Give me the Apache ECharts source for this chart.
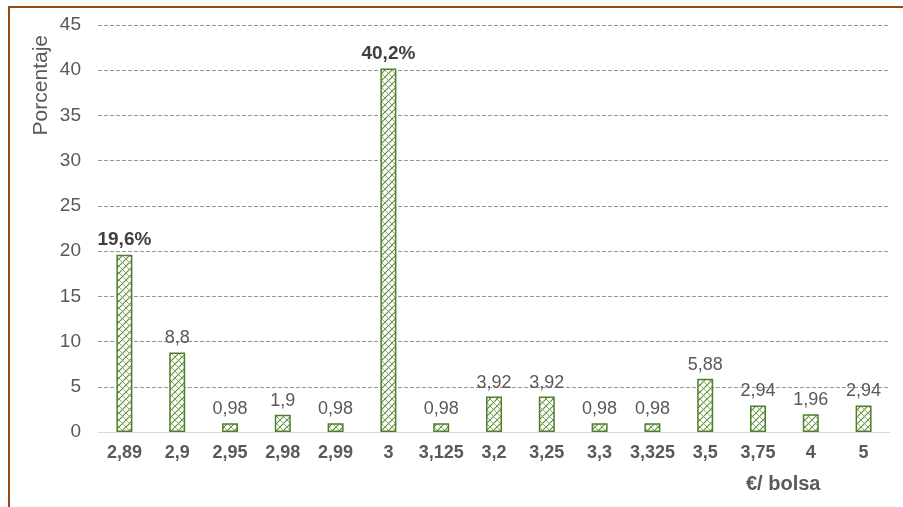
<!DOCTYPE html>
<html><head><meta charset="utf-8">
<script src="https://cdn.jsdelivr.net/npm/echarts@6/dist/echarts.min.js"></script>
<style>
html,body{margin:0;padding:0;background:#fff;}
#frame{position:absolute;left:8px;top:6px;width:903px;height:510px;border-left:2px solid #9a4a0c;border-top:2px solid #9a4a0c;}
#c{position:absolute;left:0;top:0;width:903px;height:507px;}
</style></head>
<body>
<div id="frame"></div>
<div id="c"></div>
<script>
const categories = ['2,89','2,9','2,95','2,98','2,99','3','3,125','3,2','3,25','3,3','3,325','3,5','3,75','4','5'];
const values = [19.6, 8.8, 0.98, 1.9, 0.98, 40.2, 0.98, 3.92, 3.92, 0.98, 0.98, 5.88, 2.94, 1.96, 2.94];
const highlighted = [true, false, false, false, false, true, false, false, false, false, false, false, false, false, false];
const yTicks = [0, 5, 10, 15, 20, 25, 30, 35, 40, 45];

function makePattern(){
  const s = 7;
  const cv = document.createElement('canvas');
  cv.width = s; cv.height = s;
  const g = cv.getContext('2d');
  g.fillStyle = '#ffffff'; g.fillRect(0,0,s,s);
  g.strokeStyle = '#5d8a35'; g.lineWidth = 1.1;
  g.beginPath(); g.moveTo(0,s); g.lineTo(s,0); g.stroke();
  g.beginPath(); g.moveTo(-1,1); g.lineTo(1,-1); g.stroke();
  g.beginPath(); g.moveTo(s-1,s+1); g.lineTo(s+1,s-1); g.stroke();
  g.strokeStyle = '#7ea65c'; g.lineWidth = 0.9;
  g.beginPath(); g.moveTo(0,0); g.lineTo(s,s); g.stroke();
  return cv;
}
const pat = makePattern();

const chart = echarts.init(document.getElementById('c'));
chart.setOption({
  animation:false,
  grid:{left:98, right:13, top:25, bottom:75, containLabel:false},
  xAxis:{
    type:'category', data:categories,
    axisLine:{lineStyle:{color:'#d9d9d9', width:1}},
    axisTick:{show:false},
    axisLabel:{color:'#595959', fontWeight:'bold', fontSize:18, fontFamily:'Liberation Sans', margin:12, interval:0}
  },
  yAxis:{
    type:'value', min:0, max:45, interval:5,
    axisLine:{show:false}, axisTick:{show:false},
    axisLabel:{color:'#595959', fontSize:19, fontFamily:'Liberation Sans', margin:17,
      formatter:v=>yTicks.includes(v)?String(v):''},
    splitLine:{lineStyle:{color:'#969696', type:[4,2], width:1}}
  },
  series:[{
    type:'bar', barWidth:16,
    data: values.map((v,i)=>({
      value:v,
      label:{
        show:true, position:'top', distance:5,
        fontFamily:'Liberation Sans',
        fontSize: highlighted[i]?19:18,
        fontWeight: highlighted[i]?'bold':'normal',
        color: highlighted[i]?'#404040':'#595959',
        formatter: String(v).replace('.',',') + (highlighted[i]?'%':'')
      }
    })),
    itemStyle:{color:{image:pat, repeat:'repeat'}, borderColor:'#4f7f2a', borderWidth:1.5}
  }],
  graphic:[
    {type:'text', left:31, top:35, rotation:Math.PI/2,
      style:{text:'Porcentaje', fill:'#595959', font:'21px "Liberation Sans"'}},
    {type:'text', left:746, top:474,
      style:{text:'€/ bolsa', fill:'#595959', font:'bold 20px "Liberation Sans"'}}
  ]
});
</script>
</body></html>
